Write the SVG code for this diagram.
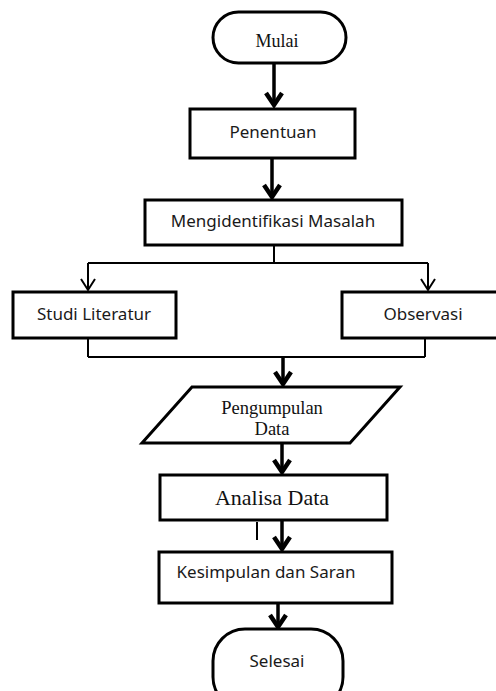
<svg xmlns="http://www.w3.org/2000/svg" width="496" height="691" viewBox="0 0 496 691">
<style>
.box{fill:#fff;stroke:#000;stroke-width:3;stroke-linejoin:miter}
.sans{font-family:"Noto Sans","Open Sans","Liberation Sans",sans-serif;font-size:17px;fill:#1a1a1a;text-anchor:middle}
.serif{font-family:"Liberation Serif","Times New Roman",serif;fill:#111;text-anchor:middle}
.thick{fill:none;stroke:#000;stroke-width:3.5}
.thin{fill:none;stroke:#000;stroke-width:2}
</style>
<defs>
<marker id="ah" markerUnits="userSpaceOnUse" viewBox="-16 -12 20 24" refX="0" refY="0" markerWidth="20" markerHeight="24" orient="auto" overflow="visible">
<path d="M-13,-8 L-1,0 L-13,8" fill="none" stroke="#000" stroke-width="4.5"/>
</marker>
<marker id="ahThin" markerUnits="userSpaceOnUse" viewBox="-14 -10 16 20" refX="0" refY="0" markerWidth="16" markerHeight="20" orient="auto" overflow="visible">
<path d="M-11,-7 L0,0 L-11,7" fill="none" stroke="#000" stroke-width="2"/>
</marker>
</defs>
<rect width="496" height="691" fill="#fff"/>
<g id="connectors">
<line class="thick" x1="274" y1="63" x2="274" y2="106" marker-end="url(#ah)"/>
<line class="thick" x1="272" y1="158" x2="272" y2="198" marker-end="url(#ah)"/>
<line class="thin" x1="274" y1="245" x2="274" y2="263"/>
<line class="thin" x1="88" y1="263" x2="428" y2="263"/>
<line class="thin" x1="88" y1="263" x2="88" y2="290" marker-end="url(#ahThin)"/>
<line class="thin" x1="428" y1="263" x2="428" y2="290" marker-end="url(#ahThin)"/>
<line class="thin" x1="88" y1="338" x2="88" y2="357"/>
<line class="thin" x1="425" y1="338" x2="425" y2="357"/>
<line class="thin" x1="88" y1="357" x2="425" y2="357"/>
<line class="thick" x1="283" y1="357" x2="283" y2="385" marker-end="url(#ah)"/>
<line class="thick" x1="282" y1="443" x2="282" y2="473" marker-end="url(#ah)"/>
<line class="thick" x1="282" y1="520" x2="282" y2="550" marker-end="url(#ah)"/>
<line class="thick" x1="278" y1="603" x2="278" y2="628" marker-end="url(#ah)"/>
<line class="thin" x1="257" y1="522" x2="257" y2="540"/>
</g>
<g id="mulai">
<rect class="box" x="213" y="12" width="133" height="51" rx="25.5" ry="25.5"/>
<text class="serif" x="277" y="47" font-size="18">Mulai</text>
</g>
<g id="penentuan">
<rect class="box" x="190" y="109" width="165" height="49"/>
<text class="sans" x="273" y="138">Penentuan</text>
</g>
<g id="mengidentifikasi">
<rect class="box" x="145" y="200" width="257" height="45"/>
<text class="sans" x="273" y="227">Mengidentifikasi Masalah</text>
</g>
<g id="studi">
<rect class="box" x="13" y="292" width="163" height="46"/>
<text class="sans" x="94" y="320">Studi Literatur</text>
</g>
<g id="observasi">
<rect class="box" x="342" y="292" width="170" height="46"/>
<text class="sans" x="423" y="320">Observasi</text>
</g>
<g id="pengumpulan">
<polygon class="box" points="192,387 400,387 350,443 142,443"/>
<text class="serif" x="272" y="414" font-size="18.5">Pengumpulan</text>
<text class="serif" x="272" y="435" font-size="18.5">Data</text>
</g>
<g id="analisa">
<rect class="box" x="160" y="475" width="227" height="45"/>
<text class="serif" x="272" y="505" font-size="22">Analisa Data</text>
</g>
<g id="kesimpulan">
<rect class="box" x="159" y="552" width="233" height="51"/>
<text class="sans" x="266" y="578">Kesimpulan dan Saran</text>
</g>
<g id="selesai">
<rect class="box" x="213" y="629" width="130" height="80" rx="32" ry="32"/>
<text class="sans" x="277" y="667">Selesai</text>
</g>
</svg>
